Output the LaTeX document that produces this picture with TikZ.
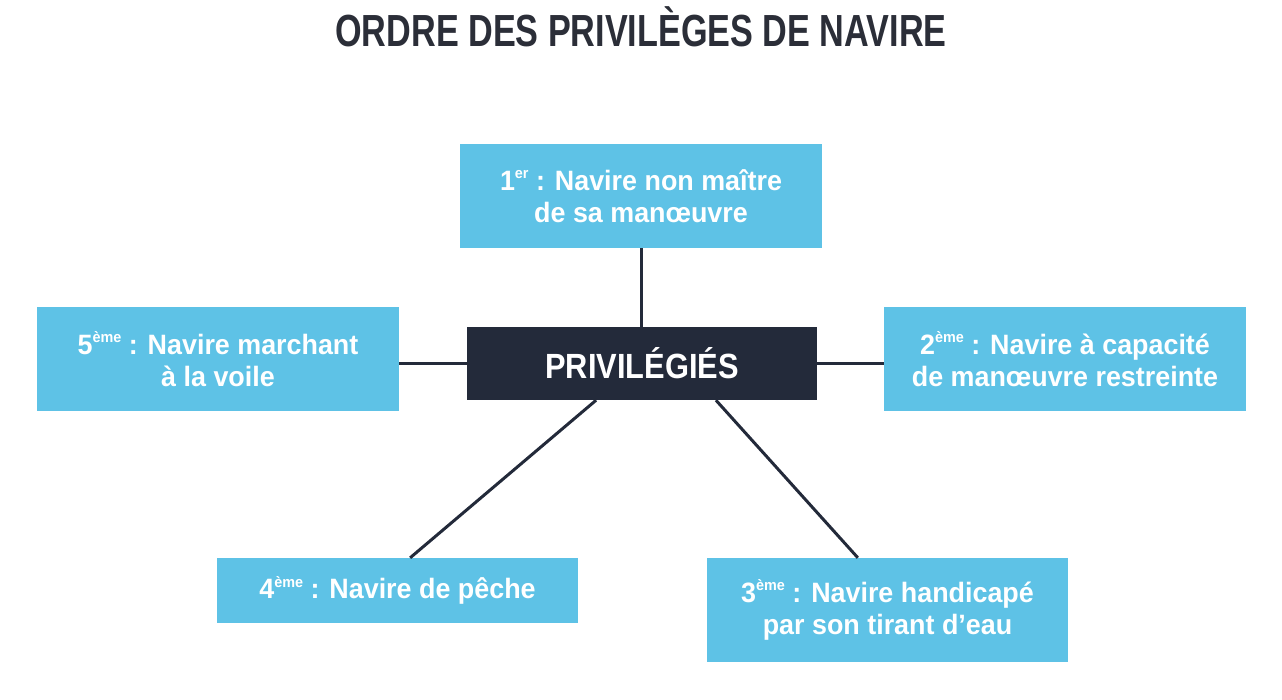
\documentclass[tikz,border=0pt]{standalone}
\usepackage{fontspec}
\usetikzlibrary{calc}
\setmainfont{Liberation Sans}
\newfontfamily\titlefont[FakeStretch=0.76]{Liberation Sans}
\newfontfamily\centerfont[FakeStretch=0.88]{Liberation Sans}
\newfontfamily\boxfont[FakeStretch=0.96]{Liberation Sans}
\definecolor{boxblue}{HTML}{5EC2E6}
\definecolor{navy}{HTML}{232A3A}
\definecolor{titlegray}{HTML}{2B2E38}
\newcommand\supx[1]{\raisebox{0.42em}{\fontsize{15}{15}\selectfont #1}}
\tikzset{
  bluebox/.style={fill=boxblue, text=white, inner sep=0pt, align=center,
    font=\boxfont\bfseries\fontsize{28}{32}\selectfont},
  centerbox/.style={fill=navy, text=white, inner sep=0pt,
    minimum width=350pt, minimum height=73pt,
    font=\centerfont\bfseries\fontsize{35}{40}\selectfont},
  link/.style={draw=navy, line width=3pt},
}
\begin{document}
\begin{tikzpicture}[x=1pt,y=-1pt]
\useasboundingbox (0,0) rectangle (1282,700);
\node[text=titlegray, font=\titlefont\bfseries\fontsize{45}{50}\selectfont] (title) at (641,27) {ORDRE DES PRIVILÈGES DE NAVIRE};
\node[centerbox] (c) at (642,363.5) {PRIVILÉGIÉS};
\node[bluebox, minimum width=362pt, minimum height=104pt] (p1) at (641,196) {1\supx{er} : Navire non maître\\de sa manœuvre};
\node[bluebox, minimum width=362pt, minimum height=104pt] (p5) at (218,359) {5\supx{ème} : Navire marchant\\à la voile};
\node[bluebox, minimum width=362pt, minimum height=104pt] (p2) at (1065,359) {2\supx{ème} : Navire à capacité\\de manœuvre restreinte};
\node[bluebox, minimum width=361pt, minimum height=65pt] (p4) at (397.5,590.5) {4\supx{ème} : Navire de pêche};
\node[bluebox, minimum width=361pt, minimum height=104pt] (p3) at (887.5,610) {3\supx{ème} : Navire handicapé\\par son tirant d’eau};
\draw[link] (p1.south) -- (c.north -| p1.south);
\draw[link] (p5.east |- c.west) -- (c.west);
\draw[link] (c.east) -- (p2.west |- c.east);
\draw[link] ($(c.south west)!0.369!(c.south east)$) -- ($(p4.north west)!0.535!(p4.north east)$);
\draw[link] ($(c.south west)!0.711!(c.south east)$) -- ($(p3.north west)!0.418!(p3.north east)$);
\end{tikzpicture}
\end{document}
